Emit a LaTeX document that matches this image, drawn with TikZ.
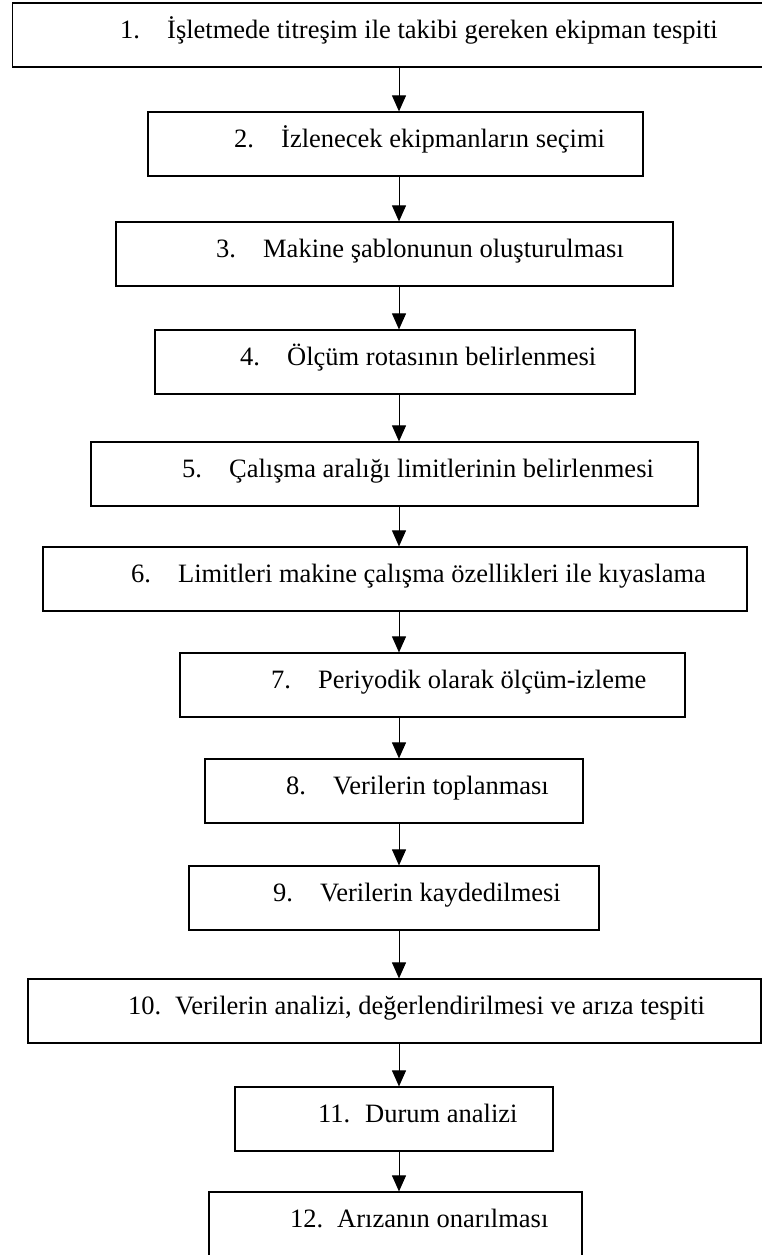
\documentclass[tikz,border=0pt]{standalone}
\usepackage{fontspec}
\setmainfont{Liberation Serif}
\usetikzlibrary{arrows.meta}

\tikzset{stepbox/.style={draw,line width=1.2pt,inner sep=0pt,minimum height=64pt}}
\tikzset{steplabel/.style={anchor=base west,inner sep=0pt,font=\fontsize{26.5}{30}\selectfont}}
\newcommand{\stepnum}[1]{\makebox[47pt][l]{#1}}

\begin{document}
\begin{tikzpicture}[x=1pt, y=-1pt, >={Triangle[width=14pt,length=16pt]}]

	\clip (0,0) rectangle (762,1255);

	% step boxes (left/right/top)
	\foreach \xl/\xr/\yt [count=\i] in {12.7/770/3, 148/643/112, 116/673/222, 155/635/330,
	    91/698/442, 43/747/547, 180/685/653, 205/583/759, 189/599/866,
	    28/761/979, 235/553/1087, 209/582/1192}
	  \node [stepbox, minimum width={(\xr-\xl)*1pt}] (box-\i) at ({(\xl+\xr)/2},{\yt+32}) {};

	% step labels
	\foreach \x/\yt/\txt [count=\i] in {
	    120/3/{İşletmede titreşim ile takibi gereken ekipman tespiti},
	    234/112/{İzlenecek ekipmanların seçimi},
	    216/222/{Makine şablonunun oluşturulması},
	    240/330/{Ölçüm rotasının belirlenmesi},
	    182/442/{Çalışma aralığı limitlerinin belirlenmesi},
	    131/547/{Limitleri makine çalışma özellikleri ile kıyaslama},
	    271/653/{Periyodik olarak ölçüm-izleme},
	    286/759/{Verilerin toplanması},
	    273/866/{Verilerin kaydedilmesi},
	    128/979/{Verilerin analizi, değerlendirilmesi ve arıza tespiti},
	    318/1087/{Durum analizi},
	    290/1192/{Arızanın onarılması}}
	  \node [steplabel] (label-\i) at (\x,\yt+35.5) {\stepnum{\i.}\txt};

	% step -> next step
	\coordinate (axis) at (399,0);
	\foreach \i [evaluate=\i as \j using int(\i+1)] in {1,...,11}
	  \draw [->, line width=1pt] (box-\i.south -| axis) -- (box-\j.north -| axis);

\end{tikzpicture}
\end{document}
